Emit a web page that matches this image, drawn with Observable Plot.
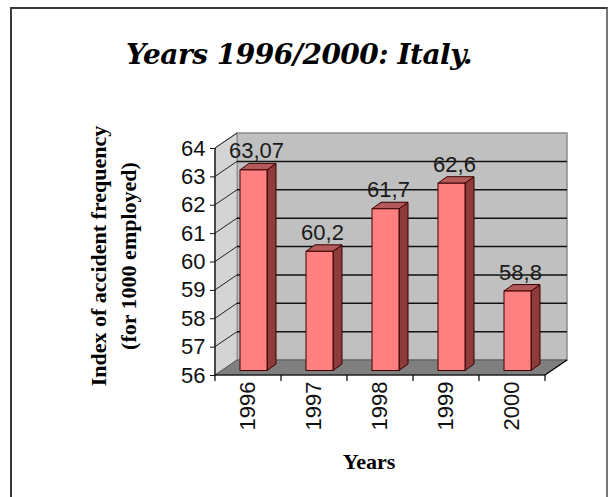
<!DOCTYPE html>
<html><head><meta charset="utf-8">
<script src="https://cdn.jsdelivr.net/npm/d3@7"></script>
<script src="https://cdn.jsdelivr.net/npm/@observablehq/plot@0.6"></script>
<style>
html,body{margin:0;padding:0;background:#fff;}
#wrap{position:relative;width:610px;height:497px;overflow:hidden;background:#fff;}
#frame{position:absolute;left:10px;top:7px;width:598px;height:520px;box-sizing:border-box;border:2px solid #3a3a3a;border-right-color:#777;}
#chart{position:absolute;left:0;top:0;}
.title{position:absolute;left:0;width:598px;top:40px;text-align:center;font:italic bold 28px "DejaVu Serif","Liberation Serif",serif;line-height:30px;color:#000;letter-spacing:-0.5px;}
.ytitle{position:absolute;left:-36px;top:226px;width:300px;height:60px;transform:rotate(-90deg);text-align:center;font:bold 22px "Liberation Serif","Times New Roman",serif;line-height:30px;white-space:nowrap;color:#000;}
.xtitle{position:absolute;left:269px;top:451px;width:200px;text-align:center;font:bold 22px "Liberation Serif","Times New Roman",serif;line-height:22px;color:#000;}
</style>
</head><body>
<div id="wrap">
  <div id="frame"></div>
  <div id="chart"></div>
  <div class="title">Years 1996/2000: Italy.</div>
  <div class="ytitle">Index of accident frequency<br>(for 1000 employed)</div>
  <div class="xtitle">Years</div>
</div>
<script>
// ---- data ----
const years = ["1996", "1997", "1998", "1999", "2000"];
const values = [63.07, 60.2, 61.7, 62.6, 58.8];
const valueLabels = ["63,07", "60,2", "61,7", "62,6", "58,8"];
const yTicks = [56, 57, 58, 59, 60, 61, 62, 63, 64];

const data = years.map((year, i) => ({year, value: values[i], label: valueLabels[i]}));
const yMin = d3.min(yTicks), yMax = d3.max(yTicks);

// ---- 3D styling (pixels) ----
const DX = 22, DY = -15;      // depth of the box
const BF = [6, -4.5];          // bar front-face offset
const BD = [9, -6.5];          // bar depth

function bandwidthOf(x) {
  return typeof x.bandwidth === "function" ? x.bandwidth() : 27;
}
function stepOf(x) {
  return typeof x.step === "function" ? x.step() : 66;
}

function walls(index, scales, values, dim) {
  const {y} = scales;
  const L = dim.marginLeft, R = dim.width - dim.marginRight;
  const T = y(yMax), B = y(yMin);
  const g = d3.create("svg:g");
  g.append("rect").attr("x", L + DX).attr("y", T + DY).attr("width", R - L).attr("height", B - T)
    .attr("fill", "#c0c0c0").attr("stroke", "#8c8c8c").attr("stroke-width", 1.5);
  g.append("path").attr("d", `M${L},${T}L${L + DX},${T + DY}L${L + DX},${B + DY}L${L},${B}Z`)
    .attr("fill", "#d4d4d4").attr("stroke", "#8c8c8c");
  g.append("path").attr("d", `M${L},${B}L${R},${B}L${R + DX},${B + DY}L${L + DX},${B + DY}Z`)
    .attr("fill", "#7f7f7f").attr("stroke", "#5a5a5a");
  for (const t of yTicks) {
    if (t === yMin) continue;
    const yy = y(t);
    g.append("path").attr("d", `M${L},${yy}L${L + DX},${yy + DY}`)
      .attr("fill", "none").attr("stroke", "#222").attr("stroke-width", 1);
    if (t !== yMax)
      g.append("path").attr("d", `M${L + DX},${yy + DY}L${R + DX},${yy + DY}`)
        .attr("fill", "none").attr("stroke", "#111").attr("stroke-width", 1.5);
  }
  return g.node();
}

function bars3d(index, scales) {
  const {x, y} = scales;
  const bw = bandwidthOf(x);
  const g = d3.create("svg:g").attr("stroke", "#3a0000").attr("stroke-width", 1).attr("stroke-linejoin", "round");
  for (const d of data) {
    const x0 = x(d.year) + BF[0], x1 = x0 + bw;
    const yt = y(d.value) + BF[1], yb = y(yMin) + BF[1];
    g.append("path").attr("d", `M${x1},${yt}L${x1 + BD[0]},${yt + BD[1]}L${x1 + BD[0]},${yb + BD[1]}L${x1},${yb}Z`)
      .attr("fill", "#8e3b3b");
    g.append("path").attr("d", `M${x0},${yt}L${x1},${yt}L${x1 + BD[0]},${yt + BD[1]}L${x0 + BD[0]},${yt + BD[1]}Z`)
      .attr("fill", "#b45a5a");
  }
  return g.node();
}

function axisLines(index, scales, values, dim) {
  const {x, y} = scales;
  const L = dim.marginLeft, R = dim.width - dim.marginRight;
  const T = y(yMax), B = y(yMin);
  const step = stepOf(x);
  const g = d3.create("svg:g").attr("stroke", "#000").attr("stroke-width", 1.2).attr("fill", "none");
  g.append("path").attr("d", `M${L},${T}L${L},${B}L${R},${B}L${R + DX},${B + DY}`);
  for (let i = 0; i <= years.length; i++) {
    const bx = L + i * step;
    g.append("path").attr("d", `M${bx},${B}L${bx},${B + 6}`);
  }
  return g.node();
}

const chart = Plot.plot({
  width: 610,
  height: 497,
  marginLeft: 215,
  marginRight: 65,
  marginTop: 148,
  marginBottom: 122,
  style: {fontFamily: "'Liberation Sans', Arial, sans-serif", fontSize: "22px", background: "transparent", overflow: "visible", color: "#111"},
  x: {domain: years, paddingInner: 0.59, paddingOuter: 0.295, tickSize: 0, tickRotate: -90, tickPadding: 6, label: null},
  y: {domain: [yMin, yMax], ticks: yTicks.length - 1, tickSize: 5, tickPadding: 5, label: null},
  marks: [
    walls,
    bars3d,
    Plot.barY(data, {x: "year", y1: d => yMin, y2: "value", dx: BF[0], dy: BF[1], fill: "#ff8080", stroke: "#3a0000", strokeWidth: 1}),
    axisLines,
    Plot.text(data, {x: "year", y: "value", text: "label", dx: BF[0] + 2.5, dy: BF[1] - 19, fontSize: 22, fontFamily: "'Liberation Sans', Arial, sans-serif", fill: "#1a1a1a"})
  ]
});
document.getElementById("chart").appendChild(chart);
</script>
</body></html>
